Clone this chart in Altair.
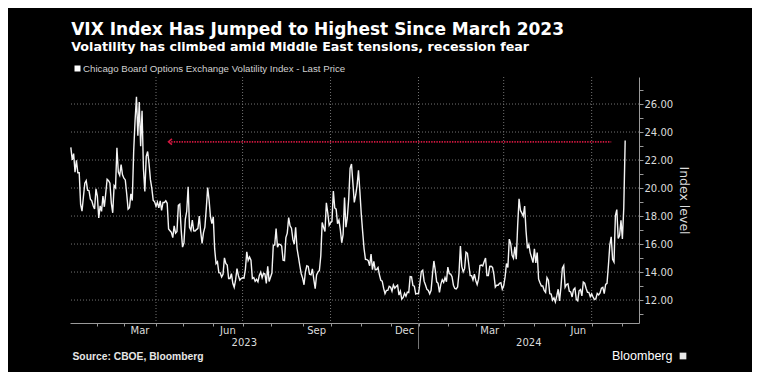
import altair as alt
import pandas as pd

# ---- data (daily closes, grouped by month; x position = trading-day index) ----
months = ["2023-01", "2023-02", "2023-03", "2023-04", "2023-05", "2023-06", "2023-07",
          "2023-08", "2023-09", "2023-10", "2023-11", "2023-12", "2024-01", "2024-02",
          "2024-03", "2024-04", "2024-05", "2024-06", "2024-07", "2024-08"]
month_names = ["Jan", "Feb", "Mar", "Apr", "May", "Jun", "Jul", "Aug", "Sep", "Oct", "Nov", "Dec",
               "Jan", "Feb", "Mar", "Apr", "May", "Jun", "Jul", "Aug"]
vix_by_month = [
    [22.90, 22.01, 22.46, 21.13, 21.97, 21.09, 21.09, 18.83, 18.35, 19.36, 20.34, 20.52, 19.85, 19.81, 19.20, 19.08, 18.73, 18.51, 19.94, 19.40],
    [17.87, 18.73, 18.33, 19.43, 18.66, 19.63, 20.63, 20.53, 20.34, 18.91, 18.23, 20.17, 20.02, 22.87, 21.14, 20.91, 21.67, 20.95, 20.70],
    [20.58, 19.59, 18.49, 18.60, 19.59, 19.11, 22.61, 24.80, 26.52, 23.73, 26.14, 22.99, 25.51, 21.38, 19.75, 22.26, 22.61, 21.74, 20.60, 19.97, 19.12, 19.02, 18.70],
    [19.00, 18.58, 19.08, 18.40, 18.97, 18.97, 19.09, 18.91, 17.07, 16.95, 16.83, 16.46, 17.30, 16.77, 16.89, 18.76, 18.84, 17.03, 15.78],
    [16.08, 17.78, 18.34, 20.09, 17.19, 16.98, 17.71, 16.94, 16.93, 17.03, 17.12, 17.99, 16.87, 16.05, 16.81, 17.21, 18.53, 20.03, 19.14, 17.95, 17.46, 17.94],
    [15.65, 14.60, 14.73, 13.96, 13.94, 13.65, 13.83, 15.01, 14.61, 14.50, 13.54, 13.54, 13.88, 13.20, 12.91, 13.44, 14.25, 13.74, 13.43, 13.54, 13.59],
    [13.57, 14.18, 15.44, 14.83, 15.07, 14.84, 13.54, 13.61, 13.34, 13.48, 13.30, 13.76, 13.99, 13.60, 13.91, 13.86, 13.19, 14.41, 13.33, 13.63],
    [13.93, 15.92, 15.92, 17.10, 15.77, 15.99, 15.96, 15.85, 14.84, 14.82, 16.46, 16.78, 17.89, 17.30, 17.13, 16.35, 15.98, 17.20, 15.68, 15.08, 14.45, 13.88, 13.57],
    [13.09, 14.02, 14.45, 14.40, 13.84, 13.80, 14.23, 13.48, 12.82, 13.79, 14.00, 14.11, 15.14, 17.54, 17.20, 16.90, 18.94, 18.22, 17.34, 17.52],
    [17.61, 19.78, 18.58, 18.49, 17.45, 17.70, 17.03, 16.09, 16.69, 19.32, 17.21, 17.88, 19.22, 21.40, 21.71, 20.37, 18.97, 19.50, 20.19, 21.27, 19.75, 18.14],
    [16.87, 15.66, 14.91, 14.89, 14.81, 14.45, 15.29, 14.17, 14.76, 14.16, 14.18, 14.32, 13.80, 13.41, 13.35, 12.85, 12.46, 12.69, 12.69, 12.98, 12.92],
    [12.63, 13.08, 12.85, 12.97, 13.06, 12.35, 12.63, 12.07, 12.19, 12.48, 12.28, 12.56, 12.53, 13.67, 13.65, 13.03, 12.99, 12.43, 12.47, 12.45],
    [13.20, 14.04, 14.13, 13.35, 13.08, 12.76, 12.69, 12.44, 12.70, 13.84, 14.79, 14.13, 13.30, 13.19, 12.55, 13.14, 13.45, 13.26, 13.60, 13.31, 14.35],
    [13.88, 13.85, 13.67, 13.06, 12.83, 12.79, 12.93, 13.93, 15.85, 14.38, 14.01, 14.24, 15.42, 15.34, 14.54, 13.75, 13.74, 13.43, 13.84, 13.40],
    [13.11, 13.49, 14.46, 14.50, 14.44, 14.74, 15.00, 13.75, 13.75, 14.40, 14.41, 14.33, 13.82, 12.92, 13.06, 13.06, 13.19, 13.24, 12.78, 13.01],
    [13.65, 14.61, 14.33, 16.35, 16.03, 15.19, 14.98, 15.80, 14.91, 17.31, 19.23, 18.40, 18.21, 18.00, 18.71, 16.94, 15.69, 15.97, 15.37, 15.03, 14.67, 15.65],
    [14.65, 15.39, 13.49, 13.23, 13.00, 13.00, 12.69, 12.55, 13.60, 13.42, 12.45, 12.42, 11.99, 12.15, 11.86, 12.29, 12.77, 11.93, 12.92, 14.28, 14.47, 12.92],
    [13.11, 13.16, 12.63, 12.58, 12.22, 12.74, 12.85, 12.04, 11.94, 12.66, 12.75, 12.30, 13.28, 13.20, 12.84, 12.55, 12.55, 12.24, 12.44],
    [12.22, 12.03, 12.09, 12.48, 12.37, 12.51, 12.85, 12.91, 12.46, 13.12, 13.19, 14.48, 15.93, 16.52, 14.91, 14.72, 18.04, 18.46, 16.39, 16.60, 17.69, 16.36],
    [18.59, 23.39],
]
shown_months = ["Mar", "Jun", "Sep", "Dec"]
years = ["2023", "2024"]
y_grid_values = [12, 14, 16, 18, 20, 22, 24, 26]
y_tick_values = list(range(11, 28))
arrow_level = 23.3          # reference level of the dotted arrow
arrow_start_day = 70        # trading-day index where the arrow head sits
arrow_end_day = 387

title = "VIX Index Has Jumped to Highest Since March 2023"
subtitle = "Volatility has climbed amid Middle East tensions, recession fear"
legend_label = "Chicago Board Options Exchange Volatility Index - Last Price"
source = "Source: CBOE, Bloomberg"

# ---- tables built from the lists ----
rows = []
for m, vals in zip(months, vix_by_month):
    for v in vals:
        rows.append({"i": len(rows), "v": v, "month": m})
line_df = pd.DataFrame(rows)

month_end = []
c = 0
for vals in vix_by_month:
    c += len(vals)
    month_end.append(c - 1)
full_month_end = month_end[:-1]          # last month is partial
quarter_end = [month_end[k] for k in range(len(months) - 1) if month_names[k] in ("Mar", "Jun", "Sep", "Dec")]
year_end_2023 = month_end[11]

XMIN, XMAX = -0.6, 406.9
lab_rows = []
for k in range(1, len(months) - 1):
    if month_names[k] in shown_months:
        lab_rows.append({"i": (month_end[k - 1] + month_end[k]) / 2, "t": month_names[k]})
mlab_df = pd.DataFrame(lab_rows)
ylab_df = pd.DataFrame({"i": [(XMIN + year_end_2023) / 2, (year_end_2023 + XMAX) / 2], "t": years})

W, H = 569, 246
GRID = "#727272"
AX = "#9a9a9a"
TXT = "#dcdcdc"

xs = alt.Scale(domain=[XMIN, XMAX], nice=False, zero=False)
ys = alt.Scale(domain=[10.36, 27.93], nice=False, zero=False)
x_axis = alt.Axis(values=full_month_end, labels=False, title=None, grid=False,
                  domainColor=AX, tickColor=AX, tickSize=3, domainWidth=1)
y_axis = alt.Axis(orient="right", values=y_tick_values,
                  labelExpr="datum.value % 2 == 0 ? format(datum.value, '.2f') : ''",
                  grid=False, domainColor=AX, tickColor=AX, tickSize=4,
                  labelPadding=1, labelColor=TXT, labelFont="DejaVu Sans", labelFontSize=10,
                  title="Index level", titleColor=TXT, titleFont="DejaVu Sans",
                  titleFontSize=12.5, titleFontWeight="normal", titlePadding=4)


def X(field):
    return alt.X(field, scale=xs, axis=x_axis)


def Y(field):
    return alt.Y(field, scale=ys, axis=y_axis)


vgrid = alt.Chart(pd.DataFrame({"i": quarter_end})).mark_rule(
    color=GRID, strokeDash=[1, 2], strokeWidth=1
).encode(x=X("i:Q"))

hgrid = alt.Chart(pd.DataFrame({"v": y_grid_values})).mark_rule(
    color=GRID, strokeDash=[1, 2], strokeWidth=1
).encode(y=Y("v:Q"))

line = alt.Chart(line_df).mark_line(color="#f4f4f4", strokeWidth=1.4).encode(
    x=X("i:Q"), y=Y("v:Q"))

arrow_df = pd.DataFrame({"a": [arrow_start_day], "b": [arrow_end_day], "v": [arrow_level]})
arrow = alt.Chart(arrow_df).mark_rule(color="#d0173f", strokeDash=[1.4, 1.2], strokeWidth=1.6).encode(
    x=X("a:Q"), x2="b:Q", y=Y("v:Q"))
head = alt.Chart(arrow_df).mark_point(
    shape="M1,-0.85L0,0L1,0.85", filled=False, color="#d0173f", strokeWidth=1.6, size=45, opacity=1
).encode(x=X("a:Q"), y=Y("v:Q"))

mlabels = alt.Chart(mlab_df).mark_text(
    font="DejaVu Sans", fontSize=10, color=TXT, baseline="middle", align="center"
).encode(x=X("i:Q"), y=alt.value(H + 7.5), text="t:N")
ylabels = alt.Chart(ylab_df).mark_text(
    font="DejaVu Sans", fontSize=10, color=TXT, baseline="middle", align="center"
).encode(x=X("i:Q"), y=alt.value(H + 20), text="t:N")
ysep = alt.Chart(pd.DataFrame({"i": [year_end_2023]})).mark_rule(color="#777777", strokeWidth=1).encode(
    x=X("i:Q"), y=alt.value(H), y2=alt.value(H + 26))


def txt(s, x, y, **kw):
    return alt.Chart(pd.DataFrame({"t": [s]})).mark_text(align="left", **kw).encode(
        x=alt.value(x), y=alt.value(y), text="t:N")


t_title = txt(title, 1.2, -42, font="DejaVu Sans", fontSize=17, fontWeight="bold", color="white", baseline="alphabetic")
t_sub = txt(subtitle, 1.2, -26, font="DejaVu Sans", fontSize=12.7, fontWeight="bold", color="white", baseline="alphabetic")
leg_sq = alt.Chart(pd.DataFrame({"t": [legend_label]})).mark_square(color="white", size=36, opacity=1).encode(
    x=alt.value(7.5), y=alt.value(-8.5))
t_leg = txt(legend_label, 13, -8.5, font="Liberation Sans", fontSize=9.7, color="#d0d0d0", baseline="middle")
t_src = txt(source, 2.5, 280, font="Liberation Sans", fontSize=10.3, fontWeight="bold", color="#e6e6e6", baseline="middle")
t_bbg = txt("Bloomberg", 542, 279, font="Liberation Sans", fontSize=12.5, color="white", baseline="middle")
bbg_icon = alt.Chart(pd.DataFrame({"t": ["icon"]})).mark_square(color="#e8e8e8", size=45, opacity=1).encode(
    x=alt.value(613), y=alt.value(279))

chart = alt.layer(
    vgrid, hgrid, line, arrow, head, mlabels, ylabels, ysep,
    t_title, t_sub, leg_sq, t_leg, t_src, t_bbg, bbg_icon
).properties(
    width=W, height=H,
    padding={"left": 62, "top": 69, "right": 113, "bottom": 49},
    autosize=alt.AutoSizeParams(type="none"),
    background="#000000",
).configure_view(stroke=None)

chart.save("out.html", embed_options={"renderer": "svg", "actions": False})
